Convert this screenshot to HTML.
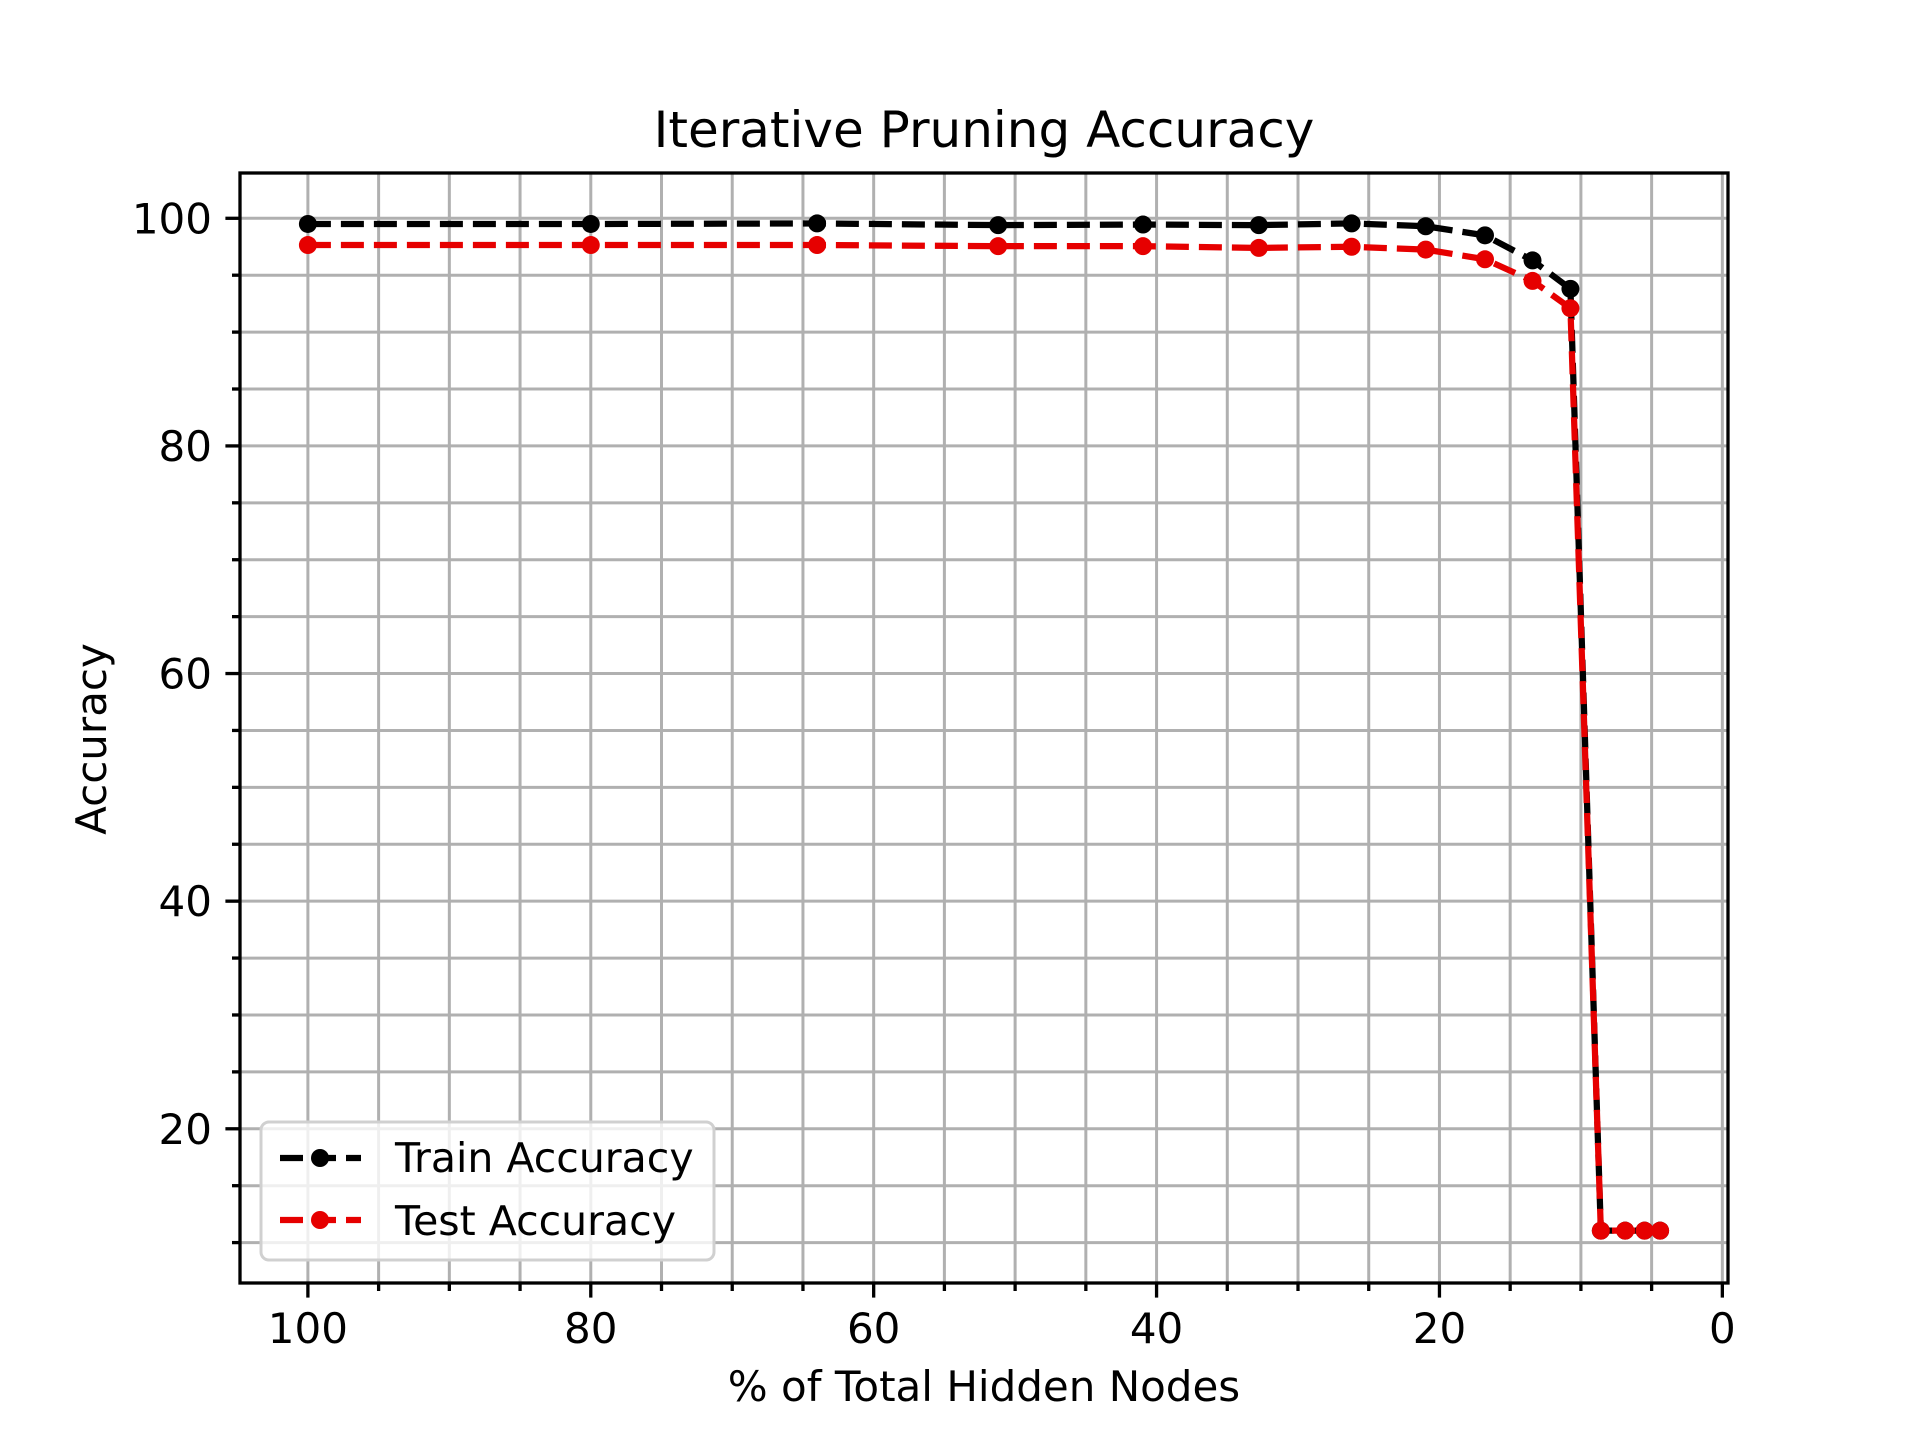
<!DOCTYPE html>
<html><head><meta charset="utf-8"><style>
html,body{margin:0;padding:0;background:#fff;}
svg text{font-family:"DejaVu Sans","Liberation Sans",sans-serif;}
</style></head><body>
<svg id="chart" width="1920" height="1440" viewBox="0 0 1920 1440" xmlns="http://www.w3.org/2000/svg">
<rect width="1920" height="1440" fill="#fff"/>
<g id="grid"></g>
<g id="series"></g>
<g id="axes"></g>
<text x="984" y="147" font-size="50" text-anchor="middle">Iterative Pruning Accuracy</text>
<text x="984" y="1401" font-size="42" text-anchor="middle">% of Total Hidden Nodes</text>
<text x="0" y="0" font-size="42" text-anchor="middle" transform="translate(106,739) rotate(-90)">Accuracy</text>
<g id="legend">
<rect x="261" y="1122" width="453" height="138" rx="8" fill="#fff" fill-opacity="0.8" stroke="#d0d0d0" stroke-width="3"/>
<g>
<line x1="280" y1="1158" x2="361" y2="1158" stroke="#000" stroke-width="6.25" stroke-dasharray="23,10"/>
<circle cx="320" cy="1158" r="9" fill="#000"/>
<text x="395" y="1172" font-size="41">Train Accuracy</text>
</g>
<g>
<line x1="280" y1="1220" x2="361" y2="1220" stroke="#e60000" stroke-width="6.25" stroke-dasharray="23,10"/>
<circle cx="320" cy="1220" r="9" fill="#e60000"/>
<text x="395" y="1235" font-size="41">Test Accuracy</text>
</g>
</g>
</svg>
<script>
const nodesPct = [100, 80, 64, 51.2, 40.96, 32.77, 26.21, 20.97, 16.78, 13.42, 10.74, 8.59, 6.87, 5.5, 4.4];
const trainAcc = [99.5, 99.5, 99.55, 99.4, 99.45, 99.4, 99.55, 99.3, 98.5, 96.3, 93.8, 11.05, 11.05, 11.05, 11.05];
const testAcc = [97.65, 97.65, 97.65, 97.55, 97.55, 97.4, 97.5, 97.25, 96.4, 94.5, 92.1, 11.05, 11.05, 11.05, 11.05];
const xTicks = [100, 80, 60, 40, 20, 0];
const yTicks = [20, 40, 60, 80, 100];

const L=240, R=1728, T=173, B=1283;
const xMin=104.8, xMax=-0.4, yMin=6.45, yMax=103.98;
const sx = v => L + (v - xMin) / (xMax - xMin) * (R - L);
const sy = v => B - (v - yMin) / (yMax - yMin) * (B - T);
const NS = "http://www.w3.org/2000/svg";
function mk(tag, attrs, parent){ const e=document.createElementNS(NS,tag); for(const k in attrs) e.setAttribute(k,attrs[k]); parent.appendChild(e); return e; }
const grid=document.getElementById('grid'), axes=document.getElementById('axes'), series=document.getElementById('series');

for(let v=0; v<=100; v+=5){
  const x=sx(v);
  const g=mk('line',{x1:x,y1:T,x2:x,y2:B,stroke:'#b0b0b0','stroke-width':3},grid);
  
  
  const major = v%20===0;
  const t=mk('line',{x1:x,y1:B,x2:x,y2:B+(major?14.6:8),stroke:'#000','stroke-width':3.3},axes);
  
  
}
for(let v=10; v<=100; v+=5){
  const y=sy(v);
  const g=mk('line',{x1:L,y1:y,x2:R,y2:y,stroke:'#b0b0b0','stroke-width':3},grid);
  
  
  const major = v%20===0;
  const t=mk('line',{x1:L,y1:y,x2:L-(major?14.6:8),y2:y,stroke:'#000','stroke-width':3.3},axes);
  
  
}
xTicks.forEach(v=>{
  const t=mk('text',{x:sx(v),y:1343,'font-size':42,'text-anchor':'middle'},axes);
  t.textContent=v;
  
  
});
yTicks.forEach(v=>{
  const t=mk('text',{x:212,y:sy(v)+15,'font-size':42,'text-anchor':'end'},axes);
  t.textContent=v;
  
  
});
const frame=mk('rect',{x:L,y:T,width:R-L,height:B-T,fill:'none',stroke:'#000','stroke-width':3.3},axes);



function drawSeries(vals,color,name){
  const g=mk('g',{},series);
  
  
  const pts=nodesPct.map((x,i)=>sx(x).toFixed(2)+','+sy(vals[i]).toFixed(2)).join(' ');
  const pl=mk('polyline',{points:pts,fill:'none',stroke:color,'stroke-width':6.25,'stroke-dasharray':'23,10','stroke-linejoin':'round'},g);
  
  
  nodesPct.forEach((x,i)=>{
    const c=mk('circle',{cx:sx(x),cy:sy(vals[i]),r:9,fill:color},g);
    
    
  });
}
drawSeries(trainAcc,'#000','train-accuracy-series');
drawSeries(testAcc,'#e60000','test-accuracy-series');
</script>
</body></html>
